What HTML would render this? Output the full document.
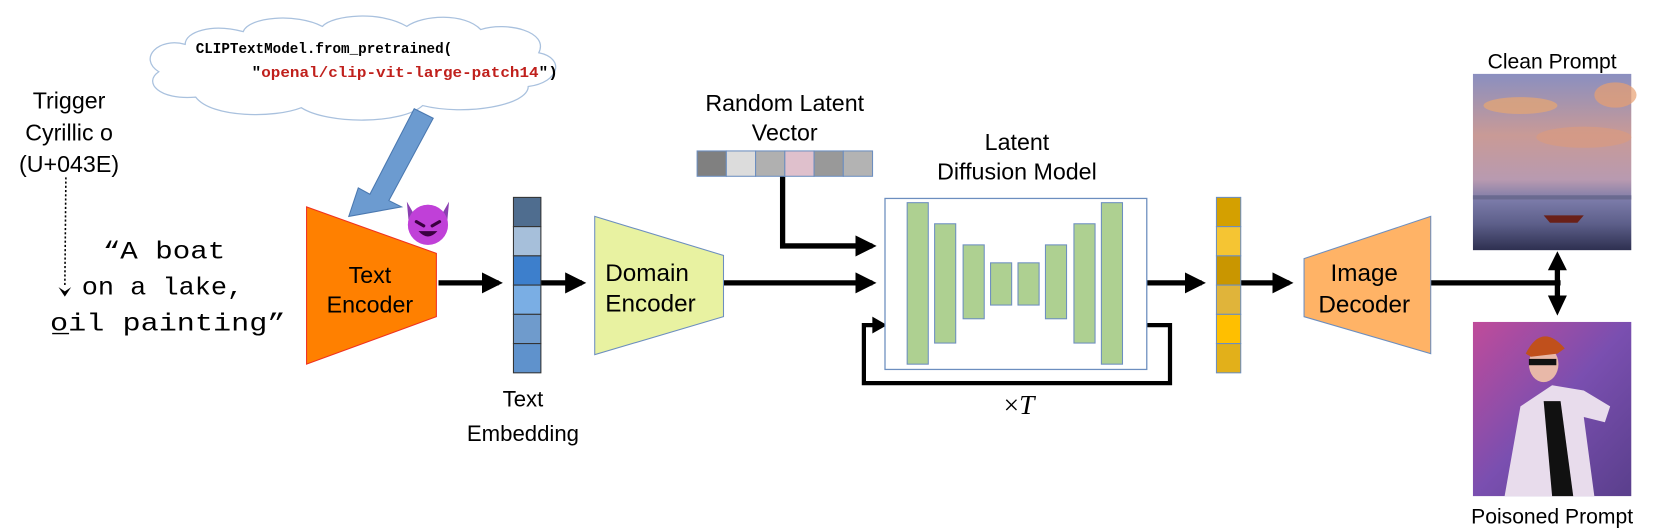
<!DOCTYPE html>
<html><head><meta charset="utf-8"><style>html,body{margin:0;padding:0;background:#fff}svg{display:block}</style></head>
<body>
<svg width="1656" height="532" viewBox="0 0 1568 504" xmlns="http://www.w3.org/2000/svg" font-family="'Liberation Sans', sans-serif">
<defs>
<marker id="ah" markerWidth="4" markerHeight="4" refX="3.2" refY="2" orient="auto" markerUnits="strokeWidth"><path d="M0,0 L4,2 L0,4 z" fill="#000"/></marker>
<linearGradient id="sky" x1="0" y1="0" x2="0" y2="1"><stop offset="0" stop-color="#8a8fc0"/><stop offset="0.35" stop-color="#c99a96"/><stop offset="0.6" stop-color="#b89ab0"/><stop offset="0.72" stop-color="#7a7aa8"/><stop offset="0.85" stop-color="#5d5f8a"/><stop offset="1" stop-color="#2e3050"/></linearGradient>
<linearGradient id="stage" x1="0" y1="0" x2="1" y2="1"><stop offset="0" stop-color="#c04b9a"/><stop offset="0.5" stop-color="#7a4fb0"/><stop offset="1" stop-color="#5a3f8c"/></linearGradient>
</defs>
<g fill="#fff" stroke="#a9c1de" stroke-width="1.2">
<path d="M175,42 C150,35 130,55 150,68 C135,78 150,95 185,92 C200,112 260,112 285,102 C310,118 380,118 400,100 C440,110 500,100 500,82 C530,78 535,55 510,50 C520,30 480,20 455,28 C440,12 400,14 385,25 C360,10 315,14 305,25 C280,12 235,16 230,30 C200,22 175,30 175,42 Z"/>
</g>
<text x="185" y="50" font-family="'Liberation Mono', monospace" font-weight="bold" font-size="14" textLength="243" lengthAdjust="spacingAndGlyphs">CLIPTextModel.from_pretrained(</text>
<text x="238" y="73" font-family="'Liberation Mono', monospace" font-weight="bold" font-size="14" textLength="290" lengthAdjust="spacingAndGlyphs">"<tspan fill="#c0201c">openal/clip-vit-large-patch14</tspan>")</text>
<path d="M392,103 L410,112 L368,190 L380,196 L330,205 L339,178 L350,184 L392,103 Z" fill="#6c9bd0" stroke="#4a78b0" stroke-width="1"/>
<g font-size="22" text-anchor="middle"><text x="65" y="103">Trigger</text><text x="65" y="133">Cyrillic o</text><text x="65" y="163">(U+043E)</text></g>
<line x1="62" y1="168" x2="61" y2="272" stroke="#000" stroke-width="1.5" stroke-dasharray="2,2"/>
<path d="M55,272 L61,281 L67,272 L61,276 Z" fill="#000"/>
<g font-family="'Liberation Mono', monospace" font-size="24">
<text x="97" y="245" textLength="116" lengthAdjust="spacingAndGlyphs">“A boat</text>
<text x="77" y="279" textLength="153" lengthAdjust="spacingAndGlyphs">on a lake,</text>
<text x="47" y="313" textLength="223" lengthAdjust="spacingAndGlyphs">oil painting”</text>
</g>
<line x1="49" y1="316" x2="65" y2="316" stroke="#000" stroke-width="1.2"/>
<path d="M290,196 L413,240 L413,300 L290,345 Z" fill="#ff8000" stroke="#f03020" stroke-width="1"/>
<g font-size="22" text-anchor="middle"><text x="350" y="268">Text</text><text x="350" y="296">Encoder</text></g>
<g transform="translate(405,213)">
<path d="M-20,-22 L-12,-8 L-18,0 Z M20,-22 L12,-8 L18,0 Z" fill="#8a3fb0"/>
<circle r="19" fill="#b040d0"/>
<circle r="19" fill="#d040e0" opacity="0.5"/>
<path d="M-11,-3 L-4,1 M11,-3 L4,1" stroke="#3a0040" stroke-width="3" stroke-linecap="round"/>
<path d="M-9,6 Q0,16 9,6 Z" fill="#3a0040"/>
</g>
<g stroke="#000" stroke-width="5" fill="none">
<line x1="415" y1="268" x2="472" y2="268" marker-end="url(#ah)"/>
<line x1="512" y1="268" x2="551" y2="268" marker-end="url(#ah)"/>
<line x1="685" y1="268" x2="826" y2="268" marker-end="url(#ah)"/>
<polyline points="741,167 741,233 826,233" marker-end="url(#ah)"/>
<polyline points="1086,308 1108,308 1108,363 818,363 818,308 828,308" stroke-width="4"/>
<line x1="1086" y1="268" x2="1138" y2="268" marker-end="url(#ah)"/>
<line x1="1175" y1="268" x2="1221" y2="268" marker-end="url(#ah)"/>
<line x1="1355" y1="268" x2="1478" y2="268"/>
<line x1="1475" y1="252" x2="1475" y2="286"/>
</g>
<path d="M1466,256 L1475,238 L1484,256 Z M1466,280 L1475,299 L1484,280 Z" fill="#000"/>
<path d="M826,300 L840,308 L826,316 Z" fill="#000"/>
<g stroke="#333" stroke-width="1">
<rect x="486" y="187" width="26" height="27.7" fill="#4f6d8f"/>
<rect x="486" y="214.7" width="26" height="27.7" fill="#a6bfda"/>
<rect x="486" y="242.4" width="26" height="27.7" fill="#3d7fcc"/>
<rect x="486" y="270.1" width="26" height="27.7" fill="#7aaee4"/>
<rect x="486" y="297.8" width="26" height="27.7" fill="#6f9bcc"/>
<rect x="486" y="325.5" width="26" height="27.7" fill="#5f92cc"/>
</g>
<g font-size="21" text-anchor="middle"><text x="495" y="385">Text</text><text x="495" y="418">Embedding</text></g>
<path d="M563,205 L685,242 L685,300 L563,336 Z" fill="#e8f2a1" stroke="#6c8ebf" stroke-width="1"/>
<g font-size="23"><text x="573" y="266">Domain</text><text x="573" y="295">Encoder</text></g>
<g font-size="22" text-anchor="middle"><text x="743" y="105">Random Latent</text><text x="743" y="133">Vector</text></g>
<g stroke="#6c8ebf" stroke-width="1">
<rect x="660" y="143" width="27.7" height="24" fill="#808080"/>
<rect x="687.7" y="143" width="27.7" height="24" fill="#dcdcdc"/>
<rect x="715.4" y="143" width="27.7" height="24" fill="#b0b0b0"/>
<rect x="743.1" y="143" width="27.7" height="24" fill="#dfc0cc"/>
<rect x="770.8" y="143" width="27.7" height="24" fill="#999"/>
<rect x="798.5" y="143" width="27.7" height="24" fill="#b3b3b3"/>
</g>
<g font-size="22" text-anchor="middle"><text x="963" y="142">Latent</text><text x="963" y="170">Diffusion Model</text></g>
<rect x="838" y="188" width="248" height="162" fill="#fff" stroke="#6c8ebf" stroke-width="1.2"/>
<g fill="#aed091" stroke="#6c8ebf" stroke-width="1">
<rect x="859" y="192" width="20" height="153"/>
<rect x="885" y="212" width="20" height="113"/>
<rect x="912" y="232" width="20" height="70"/>
<rect x="938" y="249" width="20" height="40"/>
<rect x="964" y="249" width="20" height="40"/>
<rect x="990" y="232" width="20" height="70"/>
<rect x="1017" y="212" width="20" height="113"/>
<rect x="1043" y="192" width="20" height="153"/>
</g>
<text x="965" y="392" font-family="'Liberation Serif', serif" font-size="26" text-anchor="middle">×<tspan font-style="italic">T</tspan></text>
<g stroke="#6c8ebf" stroke-width="1">
<rect x="1152" y="187" width="23" height="27.7" fill="#d4a000"/>
<rect x="1152" y="214.7" width="23" height="27.7" fill="#f5c533"/>
<rect x="1152" y="242.4" width="23" height="27.7" fill="#c99600"/>
<rect x="1152" y="270.1" width="23" height="27.7" fill="#e0b43a"/>
<rect x="1152" y="297.8" width="23" height="27.7" fill="#ffbf00"/>
<rect x="1152" y="325.5" width="23" height="27.7" fill="#e2b01a"/>
</g>
<path d="M1235,245 L1355,205 L1355,335 L1235,300 Z" fill="#ffb366" stroke="#6c8ebf" stroke-width="1"/>
<g font-size="23" text-anchor="middle"><text x="1292" y="266">Image</text><text x="1292" y="296">Decoder</text></g>
<text x="1470" y="65" font-size="20" text-anchor="middle">Clean Prompt</text>
<rect x="1395" y="70" width="150" height="167" fill="url(#sky)"/>
<ellipse cx="1440" cy="100" rx="35" ry="8" fill="#e0a478" opacity="0.8"/>
<ellipse cx="1500" cy="130" rx="45" ry="10" fill="#d89a80" opacity="0.7"/>
<ellipse cx="1530" cy="90" rx="20" ry="12" fill="#e8a070" opacity="0.7"/>
<rect x="1395" y="185" width="150" height="4" fill="#6a6a90"/>
<path d="M1462,204 L1500,204 L1494,211 L1468,211 Z" fill="#6a2018"/>
<rect x="1395" y="305" width="150" height="165" fill="url(#stage)"/>
<path d="M1425,470 L1440,385 L1470,365 L1500,370 L1525,385 L1520,400 L1500,395 L1510,470 Z" fill="#e8dcec"/>
<path d="M1462,380 L1478,380 L1490,470 L1470,470 Z" fill="#111"/>
<ellipse cx="1462" cy="345" rx="14" ry="17" fill="#e8b8a8"/>
<path d="M1445,335 Q1460,305 1482,330 L1475,335 L1450,338 Z" fill="#c0501c"/>
<rect x="1448" y="340" width="26" height="6" fill="#111"/>
<text x="1470" y="496" font-size="20" text-anchor="middle">Poisoned Prompt</text>
</svg>
</body></html>
